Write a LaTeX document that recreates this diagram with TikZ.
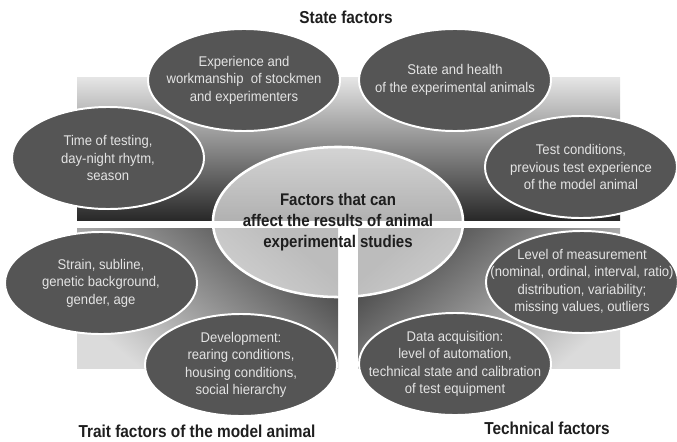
\documentclass[tikz,border=0pt]{standalone}
\usepackage{fontspec}
\setmainfont{Liberation Sans}[FakeStretch = 0.93]
\newfontfamily\headfont{Liberation Sans}[FakeStretch = 0.89]
\usetikzlibrary{shapes.geometric}
\definecolor{ellgray}{HTML}{555555}
\definecolor{ellfont}{HTML}{E4E4E4}
\definecolor{headfont}{HTML}{1E1E1E}

\begin{document}
\begin{tikzpicture}[x = 0.025cm, y = -0.025cm,
						factor/.style = {ellipse, draw = white, line width = 1.4pt, fill = ellgray, text = ellfont, align = center, inner xsep = -1cm, inner ysep = -0.5cm, minimum width = 4.8cm, minimum height = 2.55cm, font = \fontsize{10}{12.4}\selectfont},
						core/.style = {ellipse, draw = white, line width = 1.8pt, fill = white, fill opacity = 0.64, text opacity = 1, text = headfont, align = center, inner xsep = -1cm, inner ysep = -0.5cm, minimum width = 6.25cm, minimum height = 3.75cm, font = \headfont\fontsize{12}{14.9}\selectfont\bfseries},
						heading/.style = {text = headfont, font = \headfont\fontsize{12.3}{14}\selectfont\bfseries}]
		\useasboundingbox (0,0) rectangle (677,441);
		% Background panels
		\shade [top color = black!10, bottom color = black!84] (77,77) rectangle (620,220);
		\shade [top color = black!72, bottom color = black!14, shading angle = -40] (77,228) rectangle (338,368);
		\shade [top color = black!72, bottom color = black!14, shading angle = 40] (358,228) rectangle (620,368);
		% Centre
		\node (centre) at (338,222) [core] {Factors that can\\affect the results of animal\\experimental studies};
		% State factors
		\node (stockmen) at (244,80) [factor] {Experience and\\workmanship\ \ of stockmen\\and experimenters};
		\node (health) at (455,80) [factor] {State and health\\of the experimental animals};
		\node (testtime) at (108,158) [factor] {Time of testing,\\day-night rhytm,\\season};
		\node (testcond) at (581,167) [factor] {Test conditions,\\previous test experience\\of the model animal};
		% Trait factors
		\node (strain) at (101,283) [factor] {Strain, subline,\\genetic background,\\gender, age};
		\node (develop) at (241,365) [factor] {Development:\\rearing conditions,\\housing conditions,\\social hierarchy};
		% Technical factors
		\node (measure) at (582,282) [factor] {Level of measurement\\(nominal, ordinal, interval, ratio)\\distribution, variability;\\missing values, outliers};
		\node (acquire) at (455,364) [factor] {Data acquisition:\\level of automation,\\technical state and calibration\\of test equipment};
		% Headings
		\node (stateh) at (346,17) [heading] {State factors};
		\node (traith) at (197,431) [heading] {Trait factors of the model animal};
		\node (techh) at (547,428) [heading] {Technical factors};
	\end{tikzpicture}
\end{document}
